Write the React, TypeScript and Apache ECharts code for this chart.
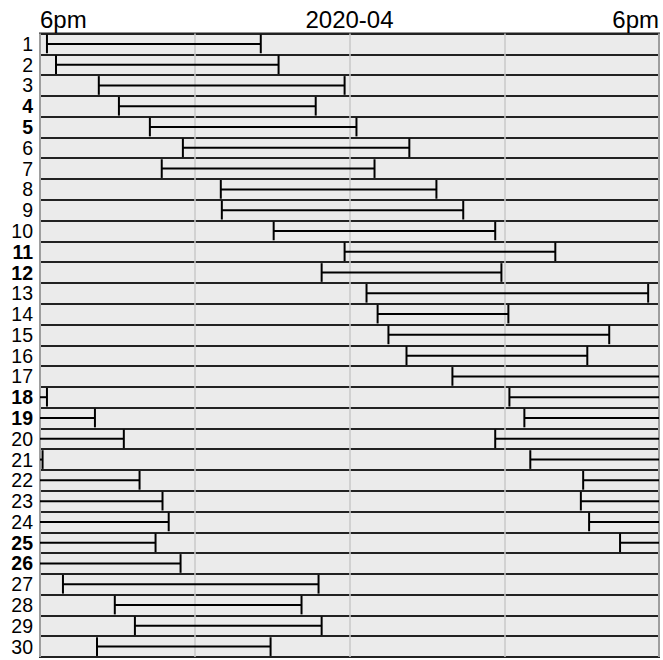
import React, { useEffect, useRef } from "react";
import * as echarts from "echarts";

// Day-of-month rows (April 2020)
const days: string[] = Array.from({ length: 30 }, (_, i) => String(i + 1));
const boldDays: number[] = [4, 5, 11, 12, 18, 19, 25, 26];

// Intervals: row where they start, start & end in hours after that row's 6pm
const intervalRows: number[] = [1, 2, 3, 4, 5, 6, 7, 8, 9, 10, 11, 12, 13, 14, 15, 16, 17, 18, 19, 20, 21, 22, 23, 24, 25, 27, 28, 29, 30];
const intervalStarts: number[] = [0.27, 0.62, 2.28, 3.06, 4.26, 5.54, 4.72, 7.01, 7.05, 9.06, 11.81, 10.92, 12.66, 13.09, 13.51, 14.21, 15.99, 18.2, 18.78, 17.65, 19.01, 21.06, 20.97, 21.29, 22.49, 0.89, 2.9, 3.68, 2.21];
const intervalEnds: number[] = [8.56, 9.25, 11.81, 10.69, 12.27, 14.32, 12.97, 15.37, 16.41, 17.65, 19.98, 17.89, 23.58, 18.16, 22.07, 21.22, 24.27, 26.13, 27.25, 24.1, 27.86, 28.75, 28.99, 28.48, 29.45, 10.8, 10.14, 10.92, 8.94];

const xTickLabels: Record<number, string> = { 0: "6pm", 12: "2020-04", 24: "6pm" };

export default function App() {
  const ref = useRef<HTMLDivElement>(null);
  useEffect(() => {
    if (!ref.current) return;
    const chart = echarts.init(ref.current, null, { renderer: "svg" });

    // segments: [rowIndex, x1, x2, startTick, endTick]
    const segments: number[][] = [];
    intervalRows.forEach((r, i) => {
      const s = intervalStarts[i];
      const e = intervalEnds[i];
      const idx = r - 1;
      if (e <= 24) {
        segments.push([idx, s, e, 1, 1]);
      } else {
        segments.push([idx, s, 24, 1, 0]);
        segments.push([idx + 1, 0, e - 24, 0, 1]);
      }
    });

    const font = "'Liberation Sans', Arial, sans-serif";

    chart.setOption({
      animation: false,
      grid: {
        left: 40,
        right: 4,
        top: 33.5,
        bottom: 3,
        show: true,
        backgroundColor: "#ebebeb",
        borderColor: "#222",
        borderWidth: 2,
      },
      xAxis: {
        type: "value",
        position: "top",
        min: 0,
        max: 24,
        interval: 6,
        axisLine: { show: false },
        axisTick: { show: false },
        axisLabel: {
          formatter: (v: number) => xTickLabels[v] ?? "",
          fontSize: 24,
          color: "#000",
          fontFamily: font,
          margin: 2,
          alignMinLabel: "left",
          alignMaxLabel: "right",
        },
        splitLine: { show: true, lineStyle: { color: "#c8c8c8", width: 1.5 } },
      },
      yAxis: {
        type: "category",
        data: days,
        inverse: true,
        axisLine: { show: false },
        axisTick: { show: false },
        axisLabel: {
          interval: 0,
          margin: 7,
          fontFamily: font,
          formatter: (v: string) => (boldDays.includes(Number(v)) ? `{b|${v}}` : `{n|${v}}`),
          rich: {
            n: { fontSize: 19.5, color: "#000", fontFamily: font },
            b: { fontSize: 19.5, color: "#000", fontWeight: "bold", fontFamily: font },
          },
        },
        splitLine: { show: true, interval: 0, lineStyle: { color: "#222", width: 2 } },
      },
      series: [
        {
          type: "custom",
          data: segments,
          encode: { x: [1, 2], y: 0 },
          renderItem: (params: any, api: any) => {
            const row = api.value(0);
            const p1 = api.coord([api.value(1), row]);
            const p2 = api.coord([api.value(2), row]);
            const h = api.size([0, 1])[1];
            const half = h * 0.45;
            const style = { stroke: "#000", lineWidth: 2 };
            const children: any[] = [
              { type: "line", shape: { x1: p1[0], y1: p1[1], x2: p2[0], y2: p2[1] }, style },
            ];
            if (api.value(3)) {
              children.push({ type: "line", shape: { x1: p1[0], y1: p1[1] - half, x2: p1[0], y2: p1[1] + half }, style });
            }
            if (api.value(4)) {
              children.push({ type: "line", shape: { x1: p2[0], y1: p2[1] - half, x2: p2[0], y2: p2[1] + half }, style });
            }
            return { type: "group", children };
          },
        },
      ],
    });
    return () => chart.dispose();
  }, []);
  return <div ref={ref} style={{ width: 663, height: 660, position: "absolute", left: 0, top: 0 }} />;
}
